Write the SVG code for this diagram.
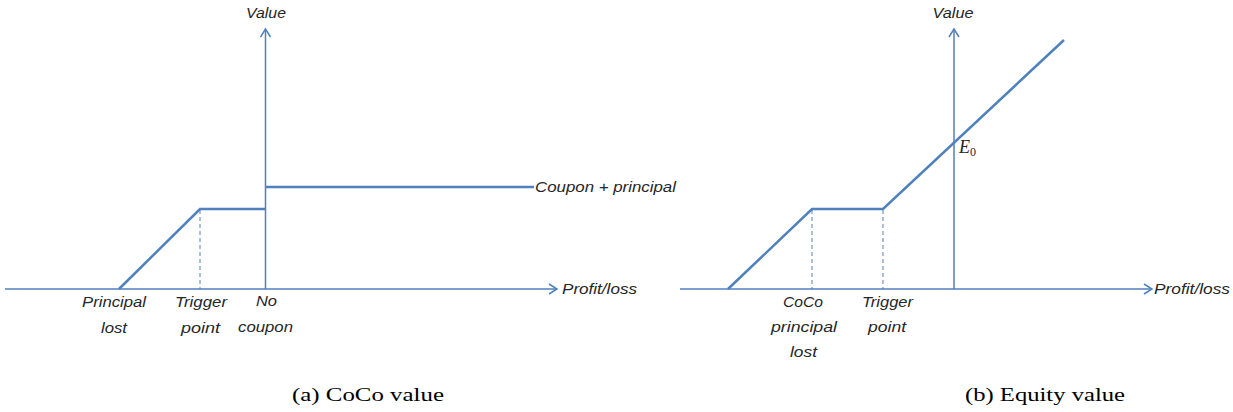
<svg xmlns="http://www.w3.org/2000/svg" width="1233" height="412" viewBox="0 0 1233 412">
<style>
.axis{fill:none;stroke:#4F81BD;stroke-width:1.5}
.curve{fill:none;stroke:#4F81BD;stroke-width:2.5;stroke-linejoin:miter}
.dash{fill:none;stroke:#4F81BD;stroke-width:1;stroke-dasharray:4,3}
.lbl{font-family:"Liberation Sans",Arial,sans-serif;font-style:italic;font-size:15px;fill:#262626}
.cap{font-family:"Liberation Serif","Times New Roman",serif;font-size:19px;fill:#000}
.math{font-family:"Liberation Serif","Times New Roman",serif;font-style:italic;fill:#262626}
</style>
<defs>
<marker id="arr" viewBox="0 0 12 12" refX="10" refY="6" markerWidth="12" markerHeight="12" markerUnits="userSpaceOnUse" orient="auto">
<path d="M2,1 L10,6 L2,11" fill="none" stroke="#4F81BD" stroke-width="1.5"/>
</marker>
</defs>
<rect width="1233" height="412" fill="#fff"/>

<g id="panel-a">
<g id="a-connectors">
<line class="axis" x1="5" y1="289" x2="557" y2="289" marker-end="url(#arr)"/>
<line class="axis" x1="265.5" y1="289" x2="265.5" y2="29" marker-end="url(#arr)"/>
<line class="dash" x1="200" y1="210" x2="200" y2="289"/>
<polyline class="curve" points="119,289 200,209 265,209"/>
<line class="curve" x1="265" y1="187" x2="534" y2="187"/>
</g>
<g id="a-value"><text class="lbl" x="266" y="18" text-anchor="middle" textLength="40" lengthAdjust="spacingAndGlyphs">Value</text></g>
<g id="a-profit"><text class="lbl" x="562" y="294" textLength="75" lengthAdjust="spacingAndGlyphs">Profit/loss</text></g>
<g id="a-coupon"><text class="lbl" x="535" y="192" textLength="141" lengthAdjust="spacingAndGlyphs">Coupon + principal</text></g>
<g id="a-principal-lost">
<text class="lbl" x="82" y="307" textLength="64" lengthAdjust="spacingAndGlyphs">Principal</text>
<text class="lbl" x="101" y="333" textLength="26" lengthAdjust="spacingAndGlyphs">lost</text>
</g>
<g id="a-trigger">
<text class="lbl" x="175" y="307" textLength="52" lengthAdjust="spacingAndGlyphs">Trigger</text>
<text class="lbl" x="181" y="333" textLength="39" lengthAdjust="spacingAndGlyphs">point</text>
</g>
<g id="a-nocoupon">
<text class="lbl" x="256" y="306" textLength="21" lengthAdjust="spacingAndGlyphs">No</text>
<text class="lbl" x="238" y="332" textLength="55" lengthAdjust="spacingAndGlyphs">coupon</text>
</g>
<g id="a-caption"><text class="cap" x="368" y="401" text-anchor="middle" textLength="152" lengthAdjust="spacingAndGlyphs">(a) CoCo value</text></g>
</g>

<g id="panel-b">
<g id="b-connectors">
<line class="axis" x1="680" y1="289" x2="1152" y2="289" marker-end="url(#arr)"/>
<line class="axis" x1="954" y1="289" x2="954" y2="29" marker-end="url(#arr)"/>
<line class="dash" x1="812" y1="210" x2="812" y2="289"/>
<line class="dash" x1="883" y1="210" x2="883" y2="289"/>
<polyline class="curve" points="728,289 812,209 883,209 1064,40"/>
</g>
<g id="b-value"><text class="lbl" x="953" y="18" text-anchor="middle" textLength="41" lengthAdjust="spacingAndGlyphs">Value</text></g>
<g id="b-profit"><text class="lbl" x="1154" y="294" textLength="76" lengthAdjust="spacingAndGlyphs">Profit/loss</text></g>
<g id="b-e0"><text class="math" x="959" y="153" font-size="18">E<tspan font-size="12" font-style="normal" dy="3">0</tspan></text></g>
<g id="b-coco-lost">
<text class="lbl" x="783" y="307" textLength="40" lengthAdjust="spacingAndGlyphs">CoCo</text>
<text class="lbl" x="771" y="332" textLength="66" lengthAdjust="spacingAndGlyphs">principal</text>
<text class="lbl" x="790" y="357" textLength="27" lengthAdjust="spacingAndGlyphs">lost</text>
</g>
<g id="b-trigger">
<text class="lbl" x="862" y="307" textLength="51" lengthAdjust="spacingAndGlyphs">Trigger</text>
<text class="lbl" x="868" y="332" textLength="38" lengthAdjust="spacingAndGlyphs">point</text>
</g>
<g id="b-caption"><text class="cap" x="1045" y="401" text-anchor="middle" textLength="160" lengthAdjust="spacingAndGlyphs">(b) Equity value</text></g>
</g>
</svg>
